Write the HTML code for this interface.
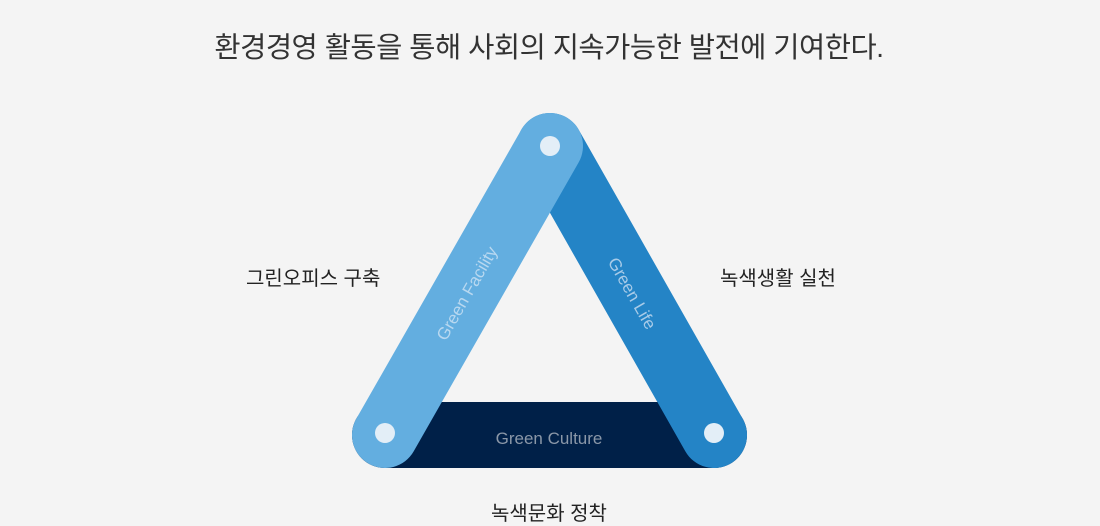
<!DOCTYPE html>
<html><head><meta charset="utf-8"><style>
html,body{margin:0;padding:0;background:#f4f4f4;}
body{width:1100px;height:522px;position:relative;overflow:hidden;font-family:"Liberation Sans","Noto Sans CJK KR",sans-serif;}
.t{position:absolute;color:#222;white-space:nowrap;}
</style></head><body>
<div class="t" style="left:0;width:1098px;text-align:center;top:25px;font-size:28.5px;color:#333;letter-spacing:-0.5px;">환경경영 활동을 통해 사회의 지속가능한 발전에 기여한다.</div>
<div class="t" style="left:246px;top:262px;font-size:20px;">그린오피스 구축</div>
<div class="t" style="left:720px;top:262px;font-size:20px;">녹색생활 실천</div>
<div class="t" style="left:491px;top:497px;font-size:20px;">녹색문화 정착</div>
<svg width="1100" height="522" style="position:absolute;left:0;top:0">
<line x1="385" y1="435" x2="714" y2="435" stroke="#002048" stroke-width="66" stroke-linecap="round"/>
<line x1="550" y1="146" x2="714" y2="435" stroke="#2484c6" stroke-width="66" stroke-linecap="round"/>
<line x1="550" y1="146" x2="385" y2="435" stroke="#63aee0" stroke-width="66" stroke-linecap="round"/>
<circle cx="550" cy="146" r="10" fill="#e3eef7"/>
<circle cx="385" cy="433" r="10" fill="#e3eef7"/>
<circle cx="714" cy="433" r="10" fill="#e3eef7"/>
<text x="549" y="444" font-size="17" fill="#8a97a8" text-anchor="middle" font-family="Liberation Sans, sans-serif">Green Culture</text>
<text transform="translate(468,294) rotate(-60.2)" font-size="17" fill="#b8d8f0" text-anchor="middle" dominant-baseline="middle" font-family="Liberation Sans, sans-serif">Green Facility</text>
<text transform="translate(631,294) rotate(60.2)" font-size="17" fill="#a8cbe8" text-anchor="middle" dominant-baseline="middle" font-family="Liberation Sans, sans-serif">Green Life</text>
</svg>
</body></html>
